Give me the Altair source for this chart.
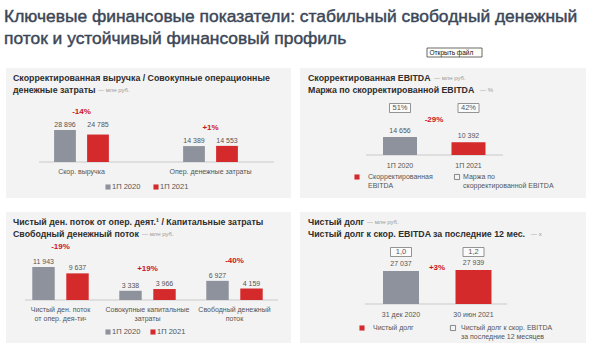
import altair as alt
import pandas as pd

# ---------------- data ----------------
MAIN_TITLE = ["Ключевые финансовые показатели: стабильный свободный денежный",
              "поток и устойчивый финансовый профиль"]
series = ["1П 2020", "1П 2021"]

# Panel 1
p1_title = ["Скорректированная выручка / Совокупные операционные", "денежные затраты"]
p1_unit = "— млн руб."
p1_categories = ["Скор. выручка", "Опер. денежные затраты"]
p1_h1_2020 = [28896, 14389]
p1_h1_2021 = [24785, 14553]
p1_change = ["-14%", "+1%"]

# Panel 2
p2_title = ["Скорректированная EBITDA", "Маржа по скорректированной EBITDA"]
p2_units = ["— млн руб.", "— %"]
p2_periods = ["1П 2020", "1П 2021"]
p2_ebitda = [14656, 10392]
p2_margin = ["51%", "42%"]
p2_change = "-29%"
p2_legend = [["Скорректированная", "EBITDA"], ["Маржа по", "скорректированной EBITDA"]]

# Panel 3
p3_title = ["Чистый ден. поток от опер. деят.¹ / Капитальные затраты", "Свободный денежный поток"]
p3_unit = "— млн руб."
p3_categories = ["Чистый ден. поток\nот опер. дея-ти¹", "Совокупные капитальные\nзатраты",
                 "Свободный денежный\nпоток"]
p3_h1_2020 = [11943, 3338, 6927]
p3_h1_2021 = [9637, 3966, 4159]
p3_change = ["-19%", "+19%", "-40%"]

# Panel 4
p4_title = ["Чистый долг", "Чистый долг к скор. EBITDA за последние 12 мес."]
p4_units = ["— млн руб.", "— x"]
p4_dates = ["31 дек 2020", "30 июн 2021"]
p4_net_debt = [27037, 27939]
p4_ratio = ["1,0", "1,2"]
p4_change = "+3%"
p4_legend = [["Чистый долг"], ["Чистый долг к скор. EBITDA", "за последние 12 месяцев"]]

OPEN_FILE = "Открыть файл"

# ---------------- styles ----------------
FONT = "Liberation Sans"
GREY = "#8e929c"
RED = "#d42a2c"
PANEL_BG = "#f3f3f3"
TXT = "#2e2e2e"
LBL = "#555555"
UNIT = "#9a9a9a"
CHG = "#cc1420"
RULE = "#c9c9c9"
TITLE_C = "#3b4757"

ONE = alt.Data(values=[{"k": 0}])


def fmt(v):
    return f"{v:,}".replace(",", "\u00a0")


def txt(s, x, y, size, color, bold=False, align="left", font=FONT, baseline="middle", stroke_w=0):
    kw = {}
    if stroke_w:
        kw = dict(stroke=color, strokeWidth=stroke_w)
    return alt.Chart(ONE).mark_text(
        text=s, fontSize=size, color=color, font=font,
        fontWeight="bold" if bold else "normal", align=align, baseline=baseline, **kw
    ).encode(x=alt.value(x), y=alt.value(y))


def box(x0, y0, x1, y1, fill, stroke=None, sw=0.8):
    kw = dict(fill=fill)
    if stroke:
        kw.update(stroke=stroke, strokeWidth=sw)
    return alt.Chart(ONE).mark_rect(**kw).encode(
        x=alt.value(x0), x2=alt.value(x1), y=alt.value(y0), y2=alt.value(y1))


def hrule(x0, x1, y):
    return alt.Chart(ONE).mark_rule(color=RULE, strokeWidth=1).encode(
        x=alt.value(x0), x2=alt.value(x1), y=alt.value(y))


def sq(x, y, color, filled=True):
    if filled:
        m = alt.Chart(ONE).mark_square(size=26, color=color, opacity=1)
    else:
        m = alt.Chart(ONE).mark_square(size=26, filled=False, stroke="#6e6e6e",
                                       strokeWidth=0.8, opacity=1)
    return m.encode(x=alt.value(x), y=alt.value(y))


layers = []

# backgrounds
layers += [box(6, 68, 291, 198, PANEL_BG), box(300, 68, 586, 198, PANEL_BG),
           box(6, 212, 291, 343, PANEL_BG), box(300, 212, 586, 343, PANEL_BG)]

# main title
layers += [txt(MAIN_TITLE[0], 4, 17, 17.4, TITLE_C, stroke_w=0.45),
           txt(MAIN_TITLE[1], 4, 39, 17.4, TITLE_C, stroke_w=0.45)]
layers += [box(427, 48, 482, 57, "#fffffa", "#444444", 0.8),
           txt(OPEN_FILE, 429.5, 52.5, 6.5, "#111111")]

color_scale = alt.Scale(domain=series, range=[GREY, RED])

PI_O, PO_O = 0.34, 0.25


# ---------- grouped panel builder ----------
def grouped_panel(cats, v20, v21, changes, c0, S, s, baseline, px_per_unit, ymax,
                  label_y, label_dy, chg_dy, use_group_max):
    n = len(cats)
    B = s * (2 - PI_O + 2 * PO_O)
    pi_x = 1 - B / S
    r0 = c0 - B / 2
    r1 = r0 + S * (n - pi_x)
    rows = []
    for c, a, b in zip(cats, v20, v21):
        g = max(a, b)
        for ser, v in zip(series, (a, b)):
            rows.append({"cat": c, "series": ser, "value": v, "label": fmt(v),
                         "ly": g if use_group_max else v})
    df = pd.DataFrame(rows)
    cdf = pd.DataFrame({"cat": cats, "chg": changes,
                        "gmax": [max(a, b) for a, b in zip(v20, v21)]})
    x = alt.X("cat:N", sort=cats, axis=None,
              scale=alt.Scale(domain=cats, range=[r0, r1], paddingInner=pi_x, paddingOuter=0))
    xo = alt.XOffset("series:N", sort=series,
                     scale=alt.Scale(domain=series, paddingInner=PI_O, paddingOuter=PO_O))
    ys = alt.Scale(domain=[0, ymax], range=[baseline, baseline - ymax * px_per_unit])
    base = alt.Chart(df)
    bars = base.mark_bar().encode(
        x=x, xOffset=xo, y=alt.Y("value:Q", scale=ys, axis=None),
        color=alt.Color("series:N", scale=color_scale, legend=None))
    vals = base.mark_text(fontSize=7, color=LBL, font=FONT, baseline="middle", dy=label_dy).encode(
        x=x, xOffset=xo, y=alt.Y("ly:Q", scale=ys, axis=None), text="label:N")
    chg = alt.Chart(cdf).mark_text(fontSize=8, color=CHG, font=FONT, fontWeight="bold",
                                   baseline="middle", dy=chg_dy).encode(
        x=x, y=alt.Y("gmax:Q", scale=ys, axis=None), text="chg:N")
    cl = alt.Chart(pd.DataFrame({"cat": cats})).mark_text(
        fontSize=7, color=LBL, font=FONT, baseline="top", lineBreak="\n", lineHeight=9).encode(
        x=x, y=alt.value(label_y), text="cat:N")
    return alt.layer(bars, vals, chg, cl)


def single_panel(cats, vals_, boxes, xr, baseline, px_per_unit, ymax, label_dy, box_y, bar_w):
    df = pd.DataFrame({"cat": cats, "value": vals_, "label": [fmt(v) for v in vals_],
                       "box": boxes, "col": series})
    x = alt.X("cat:N", sort=cats, axis=None,
              scale=alt.Scale(domain=cats, range=list(xr), paddingInner=0.5, paddingOuter=0.25))
    ys = alt.Scale(domain=[0, ymax], range=[baseline, baseline - ymax * px_per_unit])
    base = alt.Chart(df)
    bars = base.mark_bar(width=bar_w).encode(
        x=x, y=alt.Y("value:Q", scale=ys, axis=None),
        color=alt.Color("col:N", scale=color_scale, legend=None))
    vals = base.mark_text(fontSize=7, color=LBL, font=FONT, baseline="middle", dy=label_dy).encode(
        x=x, y=alt.Y("value:Q", scale=ys, axis=None), text="label:N")
    bx = base.mark_bar(width=21, fill="#fbfbfb", stroke="#7a7a7a", strokeWidth=0.8).encode(
        x=x, y=alt.value(box_y - 4.5), y2=alt.value(box_y + 4.5))
    bt = base.mark_text(fontSize=7.5, color=LBL, font=FONT, baseline="middle").encode(
        x=x, y=alt.value(box_y), text="box:N")
    cl = base.mark_text(fontSize=7, color=LBL, font=FONT, baseline="middle").encode(
        x=x, y=alt.value(baseline + 11), text="cat:N")
    return alt.layer(bars, vals, bx, bt, cl)


# ---------- Panel 1 ----------
layers += [txt(p1_title[0], 13, 77.5, 8.8, TXT, bold=True),
           txt(p1_title[1], 13, 89.5, 8.8, TXT, bold=True),
           txt(p1_unit, 98, 89.5, 6, UNIT)]
layers += [hrule(39, 274, 162)]
layers += [grouped_panel(p1_categories, p1_h1_2020, p1_h1_2021, p1_change, 81.5, 129, 33,
                         162, 32 / 28896, 30000, 168, -5, -18, True)]
layers += [sq(108, 187, GREY), txt(series[0], 112, 187, 7.5, LBL),
           sq(156, 187, RED), txt(series[1], 160, 187, 7.5, LBL)]

# ---------- Panel 2 ----------
layers += [txt(p2_title[0], 308, 77.5, 8.8, TXT, bold=True), txt(p2_units[0], 434, 77.5, 6, UNIT),
           txt(p2_title[1], 308, 89.5, 8.8, TXT, bold=True), txt(p2_units[1], 480, 89.5, 6, UNIT)]
layers += [hrule(366, 503, 155)]
layers += [single_panel(p2_periods, p2_ebitda, p2_margin, (365.75, 502.75), 155, 18 / 14656,
                        15000, -6, 108, 34)]
layers += [txt(p2_change, 434, 120, 8, CHG, bold=True, align="center")]
layers += [sq(357, 177, RED), txt(p2_legend[0][0], 368, 177, 7, LBL), txt(p2_legend[0][1], 368, 186, 7, LBL),
           sq(457, 177, None, filled=False), txt(p2_legend[1][0], 463, 177, 7, LBL),
           txt(p2_legend[1][1], 463, 186, 7, LBL)]

# ---------- Panel 3 ----------
layers += [txt(p3_title[0], 13, 222, 8.8, TXT, bold=True),
           txt(p3_title[1], 13, 233.5, 8.8, TXT, bold=True),
           txt(p3_unit, 142, 233.5, 6, UNIT)]
layers += [hrule(25, 278, 300)]
layers += [grouped_panel(p3_categories, p3_h1_2020, p3_h1_2021, p3_change, 60.5, 87, 34,
                         300, 33 / 11943, 12000, 306, -5, -20, False)]
layers += [sq(108, 332, GREY), txt(series[0], 112, 332, 7.5, LBL),
           sq(153, 332, RED), txt(series[1], 157, 332, 7.5, LBL)]

# ---------- Panel 4 ----------
layers += [txt(p4_title[0], 308, 222, 8.8, TXT, bold=True), txt(p4_units[0], 367, 222, 6, UNIT),
           txt(p4_title[1], 308, 233.5, 8.8, TXT, bold=True), txt(p4_units[1], 531, 233.5, 6, UNIT)]
layers += [hrule(365, 507, 304)]
layers += [single_panel(p4_dates, p4_net_debt, p4_ratio, (364.75, 509.75), 304, 33 / 27037,
                        28000, -7, 252, 36)]
layers += [txt(p4_change, 437, 268, 8, CHG, bold=True, align="center")]
layers += [sq(362, 328, RED), txt(p4_legend[0][0], 373, 328, 7, LBL),
           sq(453, 328, None, filled=False), txt(p4_legend[1][0], 461, 328, 7, LBL),
           txt(p4_legend[1][1], 461, 337, 7, LBL)]

chart = alt.layer(*layers).resolve_scale(
    x="independent", y="independent", xOffset="independent", color="independent"
).properties(
    width=590, height=353, padding=0, autosize=alt.AutoSizeParams(type="none"),
    background="white"
).configure_view(stroke=None)

chart.save("out.html", embed_options={"renderer": "svg", "actions": False})
